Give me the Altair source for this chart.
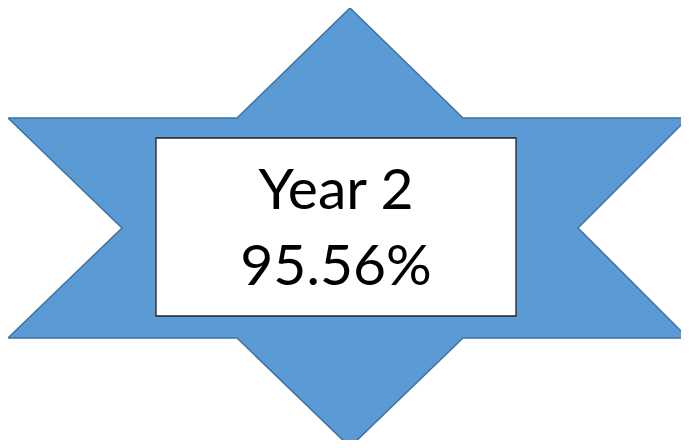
import altair as alt
import pandas as pd

# Hexagram outline vertices (picture coordinates), in drawing order
star_x = [350, 463, 688, 578, 688, 463, 350, 237, 8, 122, 8, 237, 350]
star_y = [8, 118, 118, 228, 338, 338, 447, 338, 338, 228, 118, 118, 8]

# White label box corners
box_x = [156]
box_x2 = [516]
box_y = [138]
box_y2 = [316]

labels = ["Year 2", "95.56%"]
label_x = [336, 336]
label_y = [209, 285]

star = pd.DataFrame({"x": star_x, "y": star_y, "o": list(range(len(star_x)))})
box = pd.DataFrame({"x": box_x, "x2": box_x2, "y": box_y, "y2": box_y2})
txt = pd.DataFrame({"t": labels, "x": label_x, "y": label_y})

xs = alt.Scale(domain=[8, 681], nice=False, zero=False)
ys = alt.Scale(domain=[8, 440], nice=False, zero=False, reverse=True)
X = lambda f: alt.X(f, type="quantitative", scale=xs, axis=None)
Y = lambda f: alt.Y(f, type="quantitative", scale=ys, axis=None)

shape = alt.Chart(star).mark_line(
    fill="#5B9BD5", stroke="#41719C", strokeWidth=1.5, interpolate="linear"
).encode(x=X("x"), y=Y("y"), order="o:Q")

rect = alt.Chart(box).mark_rect(
    fill="white", stroke="#222222", strokeWidth=1.3
).encode(x=X("x"), x2="x2", y=Y("y"), y2="y2")

text = alt.Chart(txt).mark_text(
    font="Lato", fontSize=57, color="black", baseline="alphabetic", align="center"
).encode(x=X("x"), y=Y("y"), text="t:N")

chart = alt.layer(shape, rect, text).properties(
    width=673, height=432,
    padding=0,
    autosize=alt.AutoSizeParams(type="none"),
).configure_view(stroke=None)

chart.save("out.html", embed_options={"renderer": "svg", "actions": False})
